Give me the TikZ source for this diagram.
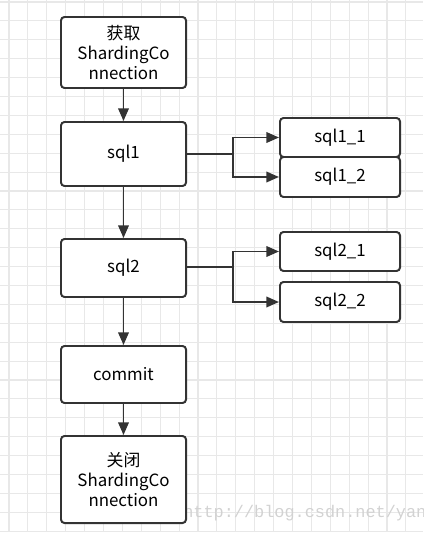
\documentclass[tikz,border=0pt]{standalone}
\usepackage{fontspec}
\setmainfont{Noto Sans CJK SC}
\newfontfamily\markfont{Liberation Mono}
\usepackage{tikz}
\usetikzlibrary{arrows.meta}
\definecolor{boxline}{HTML}{333333}
\definecolor{gridline}{HTML}{E8E8E8}

\begin{document}
\begin{tikzpicture}[x=0.025cm,y=-0.025cm,
  stepbox/.style={draw=boxline,line width=1.4pt,rounded corners=2.5pt,fill=white,
    minimum width=3.125cm,align=center,font=\fontsize{12}{14.5}\selectfont,inner sep=0pt},
  subbox/.style={stepbox,minimum width=3cm},
  link/.style={draw=boxline,line width=1.4pt},
  arr/.style={link,-{Triangle[length=9pt,width=7.5pt]}}]
  \useasboundingbox (0,0) rectangle (423,543);
  % grid
  \foreach \i in {0,...,21}
    \draw[gridline,line width=0.8pt] (9+\i*18.9,0) -- (9+\i*18.9,531);
  \foreach \j in {0,...,28}
    \draw[gridline,line width=0.8pt] (0,2+\j*18.9) -- (423,2+\j*18.9);
  \node[anchor=base west,text=gray!35,font=\markfont\fontsize{12}{14}\selectfont,inner sep=0pt]
    (mark) at (183,517) {http://blog.csdn.net/yan};
  % main column
  \node[stepbox,minimum height=1.775cm] (get) at (123.5,52.5) {获取\\ShardingCo\\nnection};
  \node[stepbox,minimum height=1.6cm] (sql1) at (123.5,154) {sql1};
  \node[stepbox,minimum height=1.45cm] (sql2) at (123.5,268) {sql2};
  \node[stepbox,minimum height=1.425cm] (commit) at (123.5,374.5) {commit};
  \node[stepbox,minimum height=2.175cm] (close) at (123.5,479.5) {关闭\\ShardingCo\\nnection};
  % sub statements
  \node[subbox,minimum height=0.975cm] (sql11) at (340,137.5) {sql1\_1};
  \node[subbox,minimum height=1cm] (sql12) at (340,177) {sql1\_2};
  \node[subbox,minimum height=0.975cm] (sql21) at (340,251.5) {sql2\_1};
  \node[subbox,minimum height=1cm] (sql22) at (340,302) {sql2\_2};
  \coordinate (fork1) at (233,154);
  \coordinate (fork2) at (233,267);
  \draw[arr] (get) -- (sql1);
  \draw[arr] (sql1) -- (sql2);
  \draw[arr] (sql2) -- (commit);
  \draw[arr] (commit) -- (close);
  \draw[link] (sql1.east) -- (fork1);
  \draw[arr] (fork1) |- (sql11);
  \draw[arr] (fork1) |- (sql12);
  \draw[link] (sql2.east |- fork2) -- (fork2);
  \draw[arr] (fork2) |- (sql21);
  \draw[arr] (fork2) |- (sql22);
\end{tikzpicture}
\end{document}
